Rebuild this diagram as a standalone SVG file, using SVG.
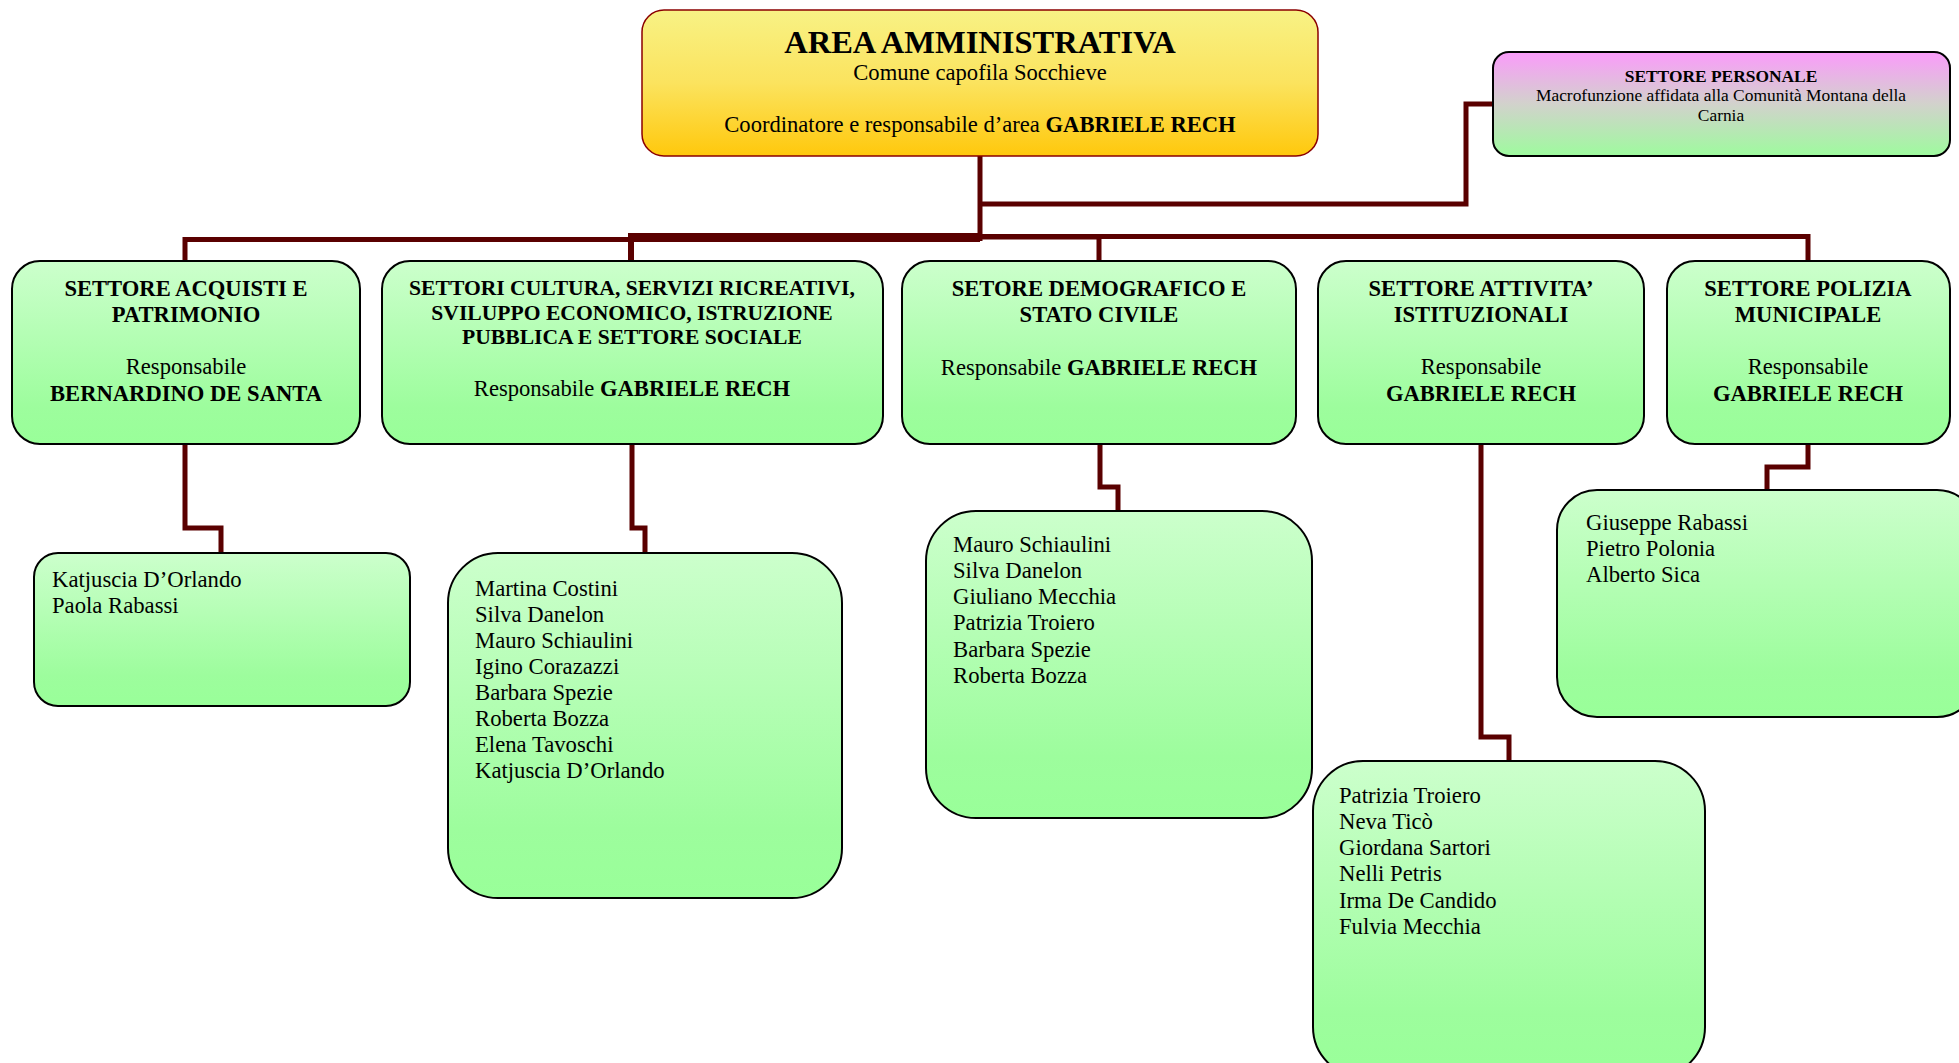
<svg xmlns="http://www.w3.org/2000/svg" width="1959" height="1063" viewBox="0 0 1959 1063">
<defs>
<linearGradient id="gGreen" x1="0" y1="0" x2="0" y2="1">
<stop offset="0" stop-color="#CCFFCC"/>
<stop offset="0.8" stop-color="#9DFD9D"/>
<stop offset="1" stop-color="#99FF99"/>
</linearGradient>
<linearGradient id="gYellow" x1="0" y1="0" x2="0" y2="1">
<stop offset="0" stop-color="#F8F285"/>
<stop offset="0.5" stop-color="#FBE35E"/>
<stop offset="1" stop-color="#FFC80C"/>
</linearGradient>
<linearGradient id="gPink" x1="0" y1="0" x2="0" y2="1">
<stop offset="0" stop-color="#FA9BFA"/>
<stop offset="0.5" stop-color="#D2D2CC"/>
<stop offset="1" stop-color="#9EFB9E"/>
</linearGradient>
</defs>
<style>
.box{fill:url(#gGreen);stroke:#000;stroke-width:2}
.conn{fill:none;stroke:#5A0000;stroke-width:5;stroke-linejoin:miter}
text{font-family:"Liberation Serif","Times New Roman",serif;fill:#000}
.t{font-size:22.6px;text-anchor:middle}
.tb{font-weight:bold}
.n{font-size:22.7px}
.ct{font-size:21.6px}
</style>
<rect width="1959" height="1063" fill="#fff"/>
<g id="connectors">
<path class="conn" d="M980,156 V241"/>
<path class="conn" d="M980,239.5 H185 V261"/>
<path class="conn" style="stroke-width:6" d="M980,236 H631 V261"/>
<path class="conn" d="M980,237 H1099 V261"/>
<path class="conn" d="M980,236.5 H1808 V261"/>
<path class="conn" d="M980,204 H1466 V104 H1493"/>
<path class="conn" d="M185,444 V528 H221 V553"/>
<path class="conn" d="M632,444 V528 H645 V553"/>
<path class="conn" d="M1100,444 V487 H1118 V511"/>
<path class="conn" d="M1481,444 V737 H1509 V761"/>
<path class="conn" d="M1808,444 V467 H1767 V490"/>
</g>
<g id="root">
<rect x="642" y="10" width="676" height="146" rx="22" fill="url(#gYellow)" stroke="#8B0000" stroke-width="1.5"/>
<text x="980" y="53" class="tb" style="font-size:32.5px;text-anchor:middle">AREA AMMINISTRATIVA</text>
<text x="980" y="80" class="t">Comune capofila Socchieve</text>
<text x="980" y="132" class="t">Coordinatore e responsabile d’area <tspan class="tb">GABRIELE RECH</tspan></text>
</g>
<g id="personale">
<rect x="1493" y="52" width="457" height="104" rx="16" fill="url(#gPink)" stroke="#000" stroke-width="2"/>
<text x="1721" y="82" class="tb" style="font-size:17.4px;text-anchor:middle">SETTORE PERSONALE</text>
<text x="1721" y="101" style="font-size:17.4px;text-anchor:middle">Macrofunzione affidata alla Comunità Montana della</text>
<text x="1721" y="121" style="font-size:17.4px;text-anchor:middle">Carnia</text>
</g>
<g id="acquisti">
<rect class="box" x="12" y="261" width="348" height="183" rx="28"/>
<text x="186" y="296" class="t tb">SETTORE ACQUISTI E</text>
<text x="186" y="322" class="t tb">PATRIMONIO</text>
<text x="186" y="374" class="t">Responsabile</text>
<text x="186" y="401" class="t tb">BERNARDINO DE SANTA</text>
</g>
<g id="cultura">
<rect class="box" x="382" y="261" width="501" height="183" rx="28"/>
<text x="632" y="294.5" class="t tb ct">SETTORI CULTURA, SERVIZI RICREATIVI,</text>
<text x="632" y="319.5" class="t tb ct">SVILUPPO ECONOMICO, ISTRUZIONE</text>
<text x="632" y="343.5" class="t tb ct">PUBBLICA E SETTORE SOCIALE</text>
<text x="632" y="395.5" class="t">Responsabile <tspan class="tb">GABRIELE RECH</tspan></text>
</g>
<g id="demografico">
<rect class="box" x="902" y="261" width="394" height="183" rx="28"/>
<text x="1099" y="296" class="t tb">SETORE DEMOGRAFICO E</text>
<text x="1099" y="322" class="t tb">STATO CIVILE</text>
<text x="1099" y="374.5" class="t">Responsabile <tspan class="tb">GABRIELE RECH</tspan></text>
</g>
<g id="attivita">
<rect class="box" x="1318" y="261" width="326" height="183" rx="28"/>
<text x="1481" y="296" class="t tb">SETTORE ATTIVITA’</text>
<text x="1481" y="322" class="t tb">ISTITUZIONALI</text>
<text x="1481" y="374" class="t">Responsabile</text>
<text x="1481" y="401" class="t tb">GABRIELE RECH</text>
</g>
<g id="polizia">
<rect class="box" x="1667" y="261" width="283" height="183" rx="28"/>
<text x="1808" y="296" class="t tb">SETTORE POLIZIA</text>
<text x="1808" y="322" class="t tb">MUNICIPALE</text>
<text x="1808" y="374" class="t">Responsabile</text>
<text x="1808" y="401" class="t tb">GABRIELE RECH</text>
</g>
<g id="staff-acquisti">
<rect class="box" x="34" y="553" width="376" height="153" rx="24"/>
<text x="52" y="587" class="n">Katjuscia D’Orlando</text>
<text x="52" y="613" class="n">Paola Rabassi</text>
</g>
<g id="staff-cultura">
<rect class="box" x="448" y="553" width="394" height="345" rx="50"/>
<text x="475" y="596" class="n">Martina Costini</text>
<text x="475" y="622" class="n">Silva Danelon</text>
<text x="475" y="648" class="n">Mauro Schiaulini</text>
<text x="475" y="674" class="n">Igino Corazazzi</text>
<text x="475" y="700" class="n">Barbara Spezie</text>
<text x="475" y="726" class="n">Roberta Bozza</text>
<text x="475" y="752" class="n">Elena Tavoschi</text>
<text x="475" y="778" class="n">Katjuscia D’Orlando</text>
</g>
<g id="staff-demografico">
<rect class="box" x="926" y="511" width="386" height="307" rx="50"/>
<text x="953" y="552" class="n">Mauro Schiaulini</text>
<text x="953" y="578" class="n">Silva Danelon</text>
<text x="953" y="604" class="n">Giuliano Mecchia</text>
<text x="953" y="630" class="n">Patrizia Troiero</text>
<text x="953" y="657" class="n">Barbara Spezie</text>
<text x="953" y="683" class="n">Roberta Bozza</text>
</g>
<g id="staff-attivita">
<rect class="box" x="1313" y="761" width="392" height="316" rx="50"/>
<text x="1339" y="803" class="n">Patrizia Troiero</text>
<text x="1339" y="829" class="n">Neva Ticò</text>
<text x="1339" y="855" class="n">Giordana Sartori</text>
<text x="1339" y="881" class="n">Nelli Petris</text>
<text x="1339" y="908" class="n">Irma De Candido</text>
<text x="1339" y="934" class="n">Fulvia Mecchia</text>
</g>
<g id="staff-polizia">
<rect class="box" x="1557" y="490" width="420" height="227" rx="40"/>
<text x="1586" y="530" class="n">Giuseppe Rabassi</text>
<text x="1586" y="556" class="n">Pietro Polonia</text>
<text x="1586" y="582" class="n">Alberto Sica</text>
</g>
</svg>
